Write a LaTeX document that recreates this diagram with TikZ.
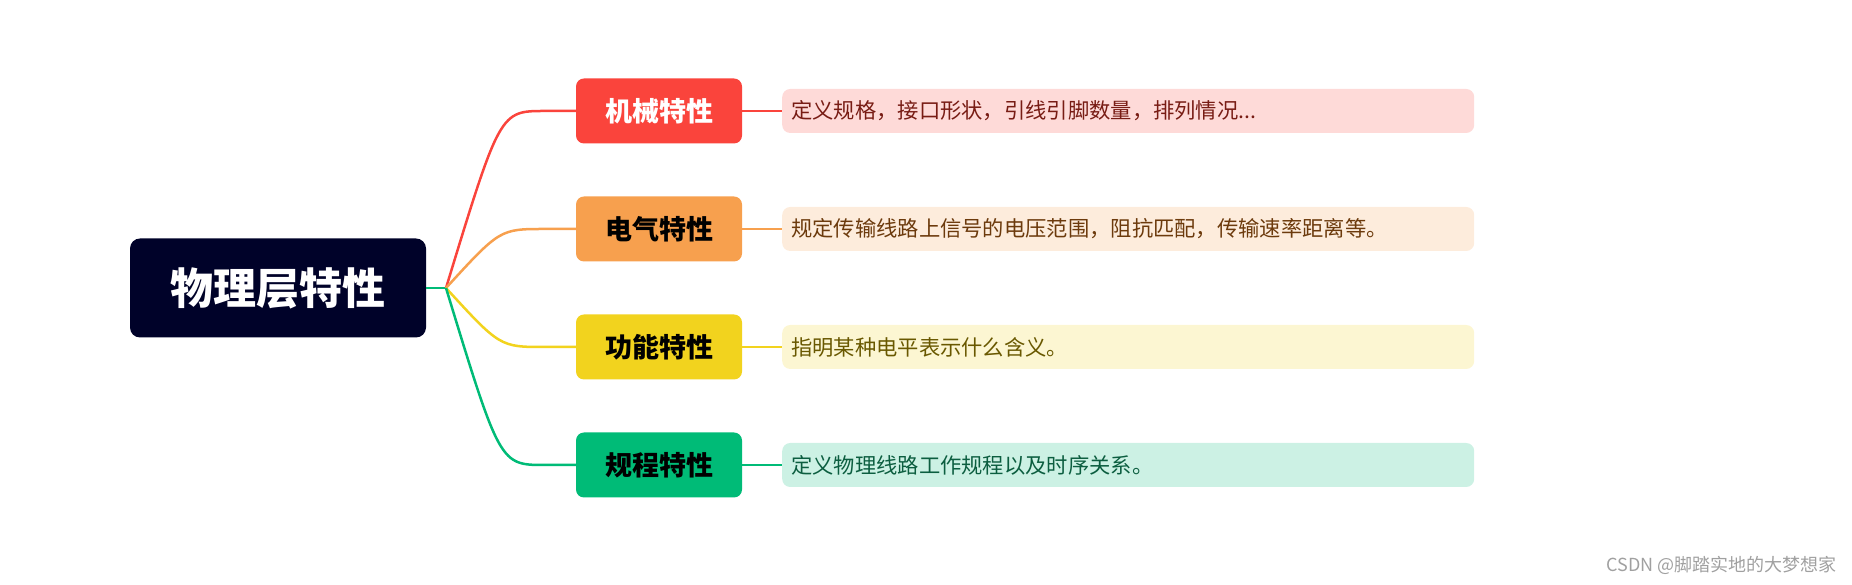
\documentclass[tikz,border=0pt]{standalone}
\usepackage{fontspec}
\setmainfont{Noto Sans CJK SC}
\usepackage{tikz}
\usetikzlibrary{positioning}

\definecolor{rootc}{RGB}{0,2,41}
\definecolor{mechc}{RGB}{250,68,60}
\definecolor{elecc}{RGB}{247,160,78}
\definecolor{funcc}{RGB}{242,211,30}
\definecolor{procc}{RGB}{0,187,119}
\definecolor{mechtext}{RGB}{120,28,20}
\definecolor{electext}{RGB}{108,58,12}
\definecolor{functext}{RGB}{105,88,0}
\definecolor{proctext}{RGB}{12,94,64}
\definecolor{markc}{RGB}{160,160,160}

\tikzset{
  rootbox/.style={fill=rootc,text=white,rounded corners=10pt,
    minimum width=296pt,minimum height=99pt,inner sep=0pt,
    font=\fontsize{43}{47}\selectfont\bfseries},
  branchbox/.style={rounded corners=8pt,minimum width=166pt,minimum height=65pt,
    inner sep=0pt,font=\fontsize{27}{31}\selectfont\bfseries},
  leafbox/.style={rounded corners=8pt,anchor=west,text width=674pt,inner xsep=9pt,
    minimum height=44pt,align=left,font=\fontsize{21.3}{24}\selectfont},
  link/.style={line width=2.5pt}
}

\begin{document}
\begin{tikzpicture}[x=1pt,y=1pt]
        \useasboundingbox (0,0) rectangle (1852,585);
        \node[rootbox] (root) at (278,297) {物理层特性};
        \coordinate (fork) at (446,297);
        \draw[link,procc] (root.east) -- (fork);
        \foreach \n/\y/\c/\tc/\lc/\t/\l in {%
          mech/474/mechc/white/mechtext/机械特性/{定义规格，接口形状，引线引脚数量，排列情况...},
          elec/356/elecc/black/electext/电气特性/{规定传输线路上信号的电压范围，阻抗匹配，传输速率距离等。},
          func/238/funcc/black/functext/功能特性/{指明某种电平表示什么含义。},
          proc/120/procc/black/proctext/规程特性/{定义物理线路工作规程以及时序关系。}} {
            \node[branchbox,fill=\c,text=\tc] (\n) at (659,\y) {\t};
            \node[leafbox,fill=\c!20,text=\lc] (\n-txt) at (782,\y) {\l};
            \draw[link,\c] (fork) .. controls (500,\y) .. (545,\y) -- (\n.west);
            \draw[link,\c] (\n.east) -- (\n-txt.west);
        }
        \node[anchor=east,text=markc,inner sep=0pt,font=\fontsize{18}{20}\selectfont]
          (mark) at (1837,20) {CSDN @脚踏实地的大梦想家};
\end{tikzpicture}
\end{document}
